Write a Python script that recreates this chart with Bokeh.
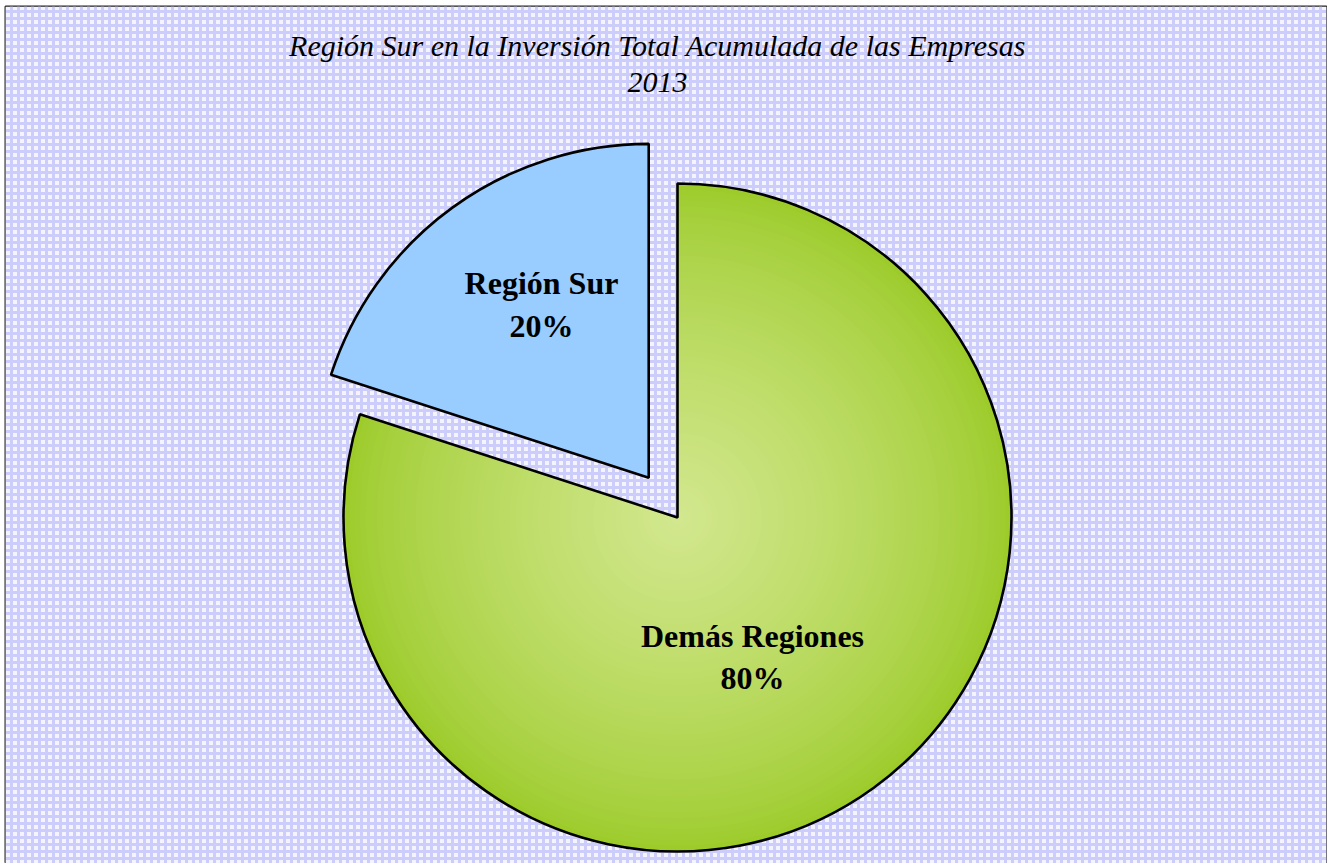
from bokeh.plotting import figure
from bokeh.models import Range1d
from bokeh.core.properties import value
from bokeh.embed import file_html
from bokeh.resources import INLINE
import math

# ---- data ----
categories = ["Región Sur", "Demás Regiones"]
shares = [20, 80]
pct_labels = ["20%", "80%"]
title_lines = ["Región Sur en la Inversión Total Acumulada de las Empresas", "2013"]

# ---- layout / style ----
FW, FH = 1321, 857          # frame size
OX, OY = 5, 6               # frame offset in page
def X(px):  # page px -> data x
    return px - OX
def Y(py):  # page px -> data y
    return FH - (py - OY)

cx, cy = X(677), Y(517)
R = 334
explode = [49, 0]
blue = "#99ccff"
green_center = (0xd2, 0xe7, 0x8e)
green_edge = (0x9c, 0xcb, 0x2a)

p = figure(width=1327, height=863, output_backend="svg", toolbar_location=None,
           x_range=Range1d(0, FW), y_range=Range1d(0, FH),
           min_border_left=OX, min_border_top=OY, min_border_right=1, min_border_bottom=0)
p.axis.visible = False
p.grid.visible = False
p.outline_line_color = "#222222"
p.outline_line_width = 2
p.background_fill_color = "#e8e8fd"
p.border_fill_color = "white"

# background plaid pattern
p.quad(left=[0], right=[FW], bottom=[0], top=[FH], fill_color="#f4f4ff",
       hatch_pattern="cross", hatch_color="#cdcdfb", hatch_scale=7, hatch_weight=3,
       line_color=None)

total = sum(shares)
start = math.pi / 2
wedges = []
for i, s in enumerate(shares):
    a0 = start
    a1 = start + 2 * math.pi * s / total
    mid = (a0 + a1) / 2
    ox = cx + explode[i] * math.cos(mid)
    oy = cy + explode[i] * math.sin(mid)
    wedges.append((a0, a1, mid, ox, oy))
    start = a1

# Región Sur slice (solid)
a0, a1, mid, ox, oy = wedges[0]
p.wedge(x=[ox], y=[oy], radius=R, start_angle=a0, end_angle=a1,
        fill_color=blue, line_color=None)

# Demás Regiones slice with radial gradient
a0, a1, mid, ox, oy = wedges[1]
N = 60
rs, cols = [], []
for k in range(N):
    t = k / (N - 1)
    rr = R * (1 - t * 0.98)
    c = tuple(int(round(green_edge[j] + (green_center[j] - green_edge[j]) * (t ** 0.75))) for j in range(3))
    rs.append(rr)
    cols.append("#%02x%02x%02x" % c)
p.wedge(x=[ox] * N, y=[oy] * N, radius=rs, start_angle=[a0] * N, end_angle=[a1] * N,
        fill_color=cols, line_color=None)

# outlines
for i, (a0, a1, mid, ox, oy) in enumerate(wedges):
    p.wedge(x=[ox], y=[oy], radius=R, start_angle=a0, end_angle=a1,
            fill_color=None, line_color="black", line_width=2.6)

# labels
label_pos = [(541, 282, 325), (752, 635, 677)]
for i in range(len(categories)):
    lx, ly1, ly2 = label_pos[i]
    p.text(x=[X(lx)] * 2, y=[Y(ly1), Y(ly2)], text=[categories[i], pct_labels[i]],
           text_font=value("Liberation Serif"), text_font_style="bold",
           text_font_size="32px", text_align="center", text_baseline="middle",
           text_color="black")

# title
p.text(x=[X(657)] * 2, y=[Y(45), Y(82)], text=title_lines,
       text_font=value("Liberation Serif"), text_font_style="italic",
       text_font_size="30px", text_align="center", text_baseline="middle",
       text_color="black")

open("out.html", "w").write(file_html(p, INLINE))
